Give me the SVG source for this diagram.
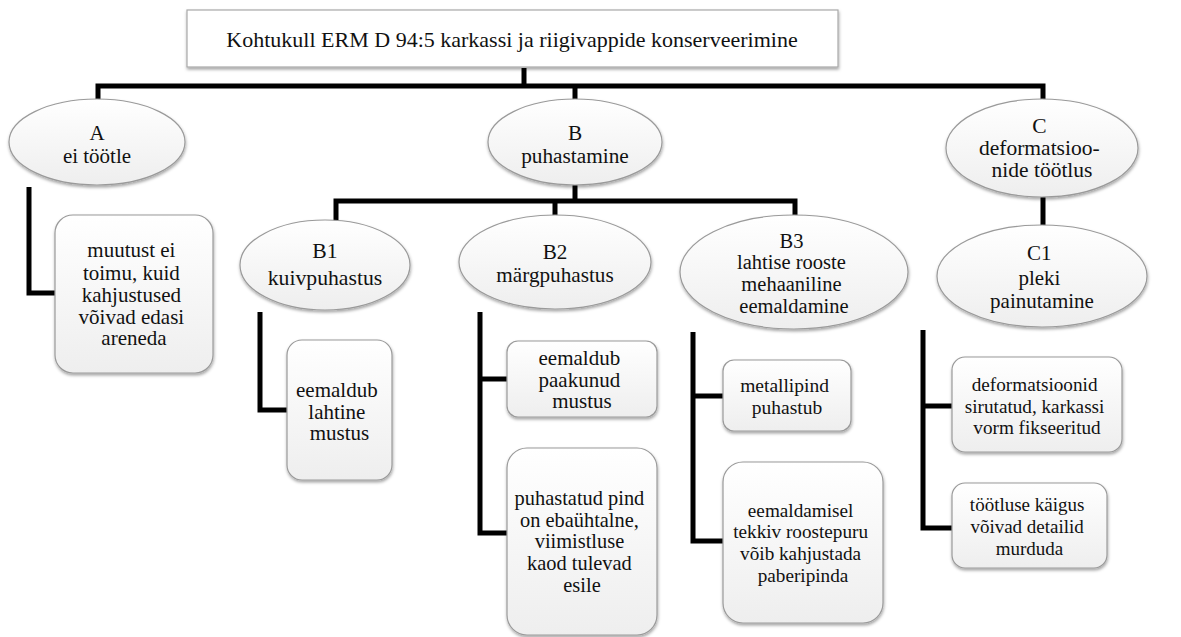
<svg xmlns="http://www.w3.org/2000/svg" width="1181" height="637" viewBox="0 0 1181 637" font-family="'Liberation Serif', 'Times New Roman', 'DejaVu Serif', serif">
  <defs>
    <linearGradient id="fillGrad" x1="0" y1="0" x2="0" y2="1">
      <stop offset="0" stop-color="#ffffff"/>
      <stop offset="1" stop-color="#eeeeee"/>
    </linearGradient>
    <filter id="shadow" x="-10%" y="-10%" width="120%" height="130%">
      <feDropShadow dx="0.5" dy="2" stdDeviation="1.5" flood-color="#000" flood-opacity="0.35"/>
    </filter>
    <style>
      .shape { fill: url(#fillGrad); stroke: #9a9a9a; stroke-width: 1.2; filter: url(#shadow); }
      .title { fill: #ffffff; stroke: #a8a8a8; stroke-width: 1.2; filter: url(#shadow); }
      .conn { fill: none; stroke: #000; stroke-width: 5; stroke-linecap: butt; stroke-linejoin: miter; }
      .lbl { font-family: 'Liberation Serif', 'Times New Roman', 'DejaVu Serif', serif; fill: #111; text-anchor: middle; }
    </style>
  </defs>

  <!-- connectors -->
  <g id="connectors">
    <path class="conn" d="M524 68 V86"/>
    <path class="conn" d="M98 101 V86 H1043 V101"/>
    <path class="conn" d="M575 86 V101"/>
    <path class="conn" d="M29 187 V293 H56"/>
    <path class="conn" d="M575 184 V201"/>
    <path class="conn" d="M336 222 V201 H795 V218"/>
    <path class="conn" d="M555 201 V217"/>
    <path class="conn" d="M260 312 V410 H288"/>
    <path class="conn" d="M480 312 V533 H508"/>
    <path class="conn" d="M480 379 H508"/>
    <path class="conn" d="M693 332 V541 H724"/>
    <path class="conn" d="M693 396 H724"/>
    <path class="conn" d="M1043 196 V227"/>
    <path class="conn" d="M923 330 V528 H953"/>
    <path class="conn" d="M923 406 H953"/>
  </g>

  <!-- root -->
  <g id="root">
    <rect class="title" x="187" y="10" width="651" height="57"/>
    <text class="lbl" x="512" y="47" font-size="22">Kohtukull ERM D 94:5 karkassi ja riigivappide konserveerimine</text>
  </g>

  <!-- A -->
  <g id="nodeA">
    <ellipse class="shape" cx="97" cy="142" rx="88" ry="43"/>
    <text class="lbl" font-size="21"><tspan x="97" y="140">A</tspan><tspan x="97" y="163">ei töötle</tspan></text>
  </g>
  <g id="nodeA-result">
    <rect class="shape" x="55" y="215" width="158" height="158" rx="18"/>
    <text class="lbl" font-size="21">
      <tspan x="134" y="257">muutust ei</tspan>
      <tspan x="134" y="279.5">toimu, kuid</tspan>
      <tspan x="134" y="301.5">kahjustused</tspan>
      <tspan x="134" y="323.5">võivad edasi</tspan>
      <tspan x="134" y="345">areneda</tspan>
    </text>
  </g>

  <!-- B -->
  <g id="nodeB">
    <ellipse class="shape" cx="575" cy="142" rx="87" ry="43"/>
    <text class="lbl" font-size="21.3"><tspan x="575" y="140">B</tspan><tspan x="575" y="163">puhastamine</tspan></text>
  </g>

  <g id="nodeB1">
    <ellipse class="shape" cx="325" cy="265" rx="85" ry="45"/>
    <text class="lbl" font-size="21.7"><tspan x="325" y="258">B1</tspan><tspan x="325" y="285">kuivpuhastus</tspan></text>
  </g>
  <g id="nodeB1-result">
    <rect class="shape" x="287" y="340" width="105" height="140" rx="15"/>
    <text class="lbl" font-size="21">
      <tspan x="339.5" y="396.5">eemaldub</tspan>
      <tspan x="339.5" y="418.5">lahtine</tspan>
      <tspan x="339.5" y="440">mustus</tspan>
    </text>
  </g>

  <g id="nodeB2">
    <ellipse class="shape" cx="555" cy="262" rx="96" ry="47"/>
    <text class="lbl" font-size="21.2"><tspan x="555" y="259">B2</tspan><tspan x="555" y="282">märgpuhastus</tspan></text>
  </g>
  <g id="nodeB2-result1">
    <rect class="shape" x="507" y="341" width="150" height="76" rx="11"/>
    <text class="lbl" font-size="21">
      <tspan x="582" y="364.5">eemaldub</tspan>
      <tspan x="582" y="386.5">paakunud</tspan>
      <tspan x="582" y="408">mustus</tspan>
    </text>
  </g>
  <g id="nodeB2-result2">
    <rect class="shape" x="507" y="448" width="150" height="187" rx="20"/>
    <text class="lbl" font-size="20.4">
      <tspan x="582" y="505">puhastatud pind</tspan>
      <tspan x="582" y="527">on ebaühtalne,</tspan>
      <tspan x="582" y="548">viimistluse</tspan>
      <tspan x="582" y="570">kaod tulevad</tspan>
      <tspan x="582" y="592">esile</tspan>
    </text>
  </g>

  <g id="nodeB3">
    <ellipse class="shape" cx="794" cy="272" rx="114" ry="57"/>
    <text class="lbl" font-size="20.5">
      <tspan x="794" y="248">B3</tspan>
      <tspan x="794" y="269">lahtise rooste</tspan>
      <tspan x="794" y="291">mehaaniline</tspan>
      <tspan x="794" y="313">eemaldamine</tspan>
    </text>
  </g>
  <g id="nodeB3-result1">
    <rect class="shape" x="723" y="360" width="128" height="71" rx="11"/>
    <text class="lbl" font-size="19.5">
      <tspan x="787" y="392">metallipind</tspan>
      <tspan x="787" y="414">puhastub</tspan>
    </text>
  </g>
  <g id="nodeB3-result2">
    <rect class="shape" x="723" y="462" width="160" height="161" rx="20"/>
    <text class="lbl" font-size="19.2">
      <tspan x="803" y="517">eemaldamisel</tspan>
      <tspan x="803" y="538">tekkiv roostepuru</tspan>
      <tspan x="803" y="560">võib kahjustada</tspan>
      <tspan x="803" y="582">paberipinda</tspan>
    </text>
  </g>

  <!-- C -->
  <g id="nodeC">
    <ellipse class="shape" cx="1042" cy="148" rx="96" ry="49"/>
    <text class="lbl" font-size="21.5">
      <tspan x="1042" y="133">C</tspan>
      <tspan x="1042" y="155">deformatsioo-</tspan>
      <tspan x="1042" y="177">nide töötlus</tspan>
    </text>
  </g>
  <g id="nodeC1">
    <ellipse class="shape" cx="1042" cy="276" rx="105" ry="51"/>
    <text class="lbl" font-size="21">
      <tspan x="1042" y="260">C1</tspan>
      <tspan x="1042" y="285">pleki</tspan>
      <tspan x="1042" y="308">painutamine</tspan>
    </text>
  </g>
  <g id="nodeC1-result1">
    <rect class="shape" x="952" y="357" width="170" height="95" rx="13"/>
    <text class="lbl" font-size="19.2">
      <tspan x="1037" y="391">deformatsioonid</tspan>
      <tspan x="1037" y="413">sirutatud, karkassi</tspan>
      <tspan x="1037" y="434">vorm fikseeritud</tspan>
    </text>
  </g>
  <g id="nodeC1-result2">
    <rect class="shape" x="952" y="483" width="155" height="85" rx="13"/>
    <text class="lbl" font-size="19">
      <tspan x="1029.5" y="511">töötluse käigus</tspan>
      <tspan x="1029.5" y="533">võivad detailid</tspan>
      <tspan x="1029.5" y="555">murduda</tspan>
    </text>
  </g>
</svg>
